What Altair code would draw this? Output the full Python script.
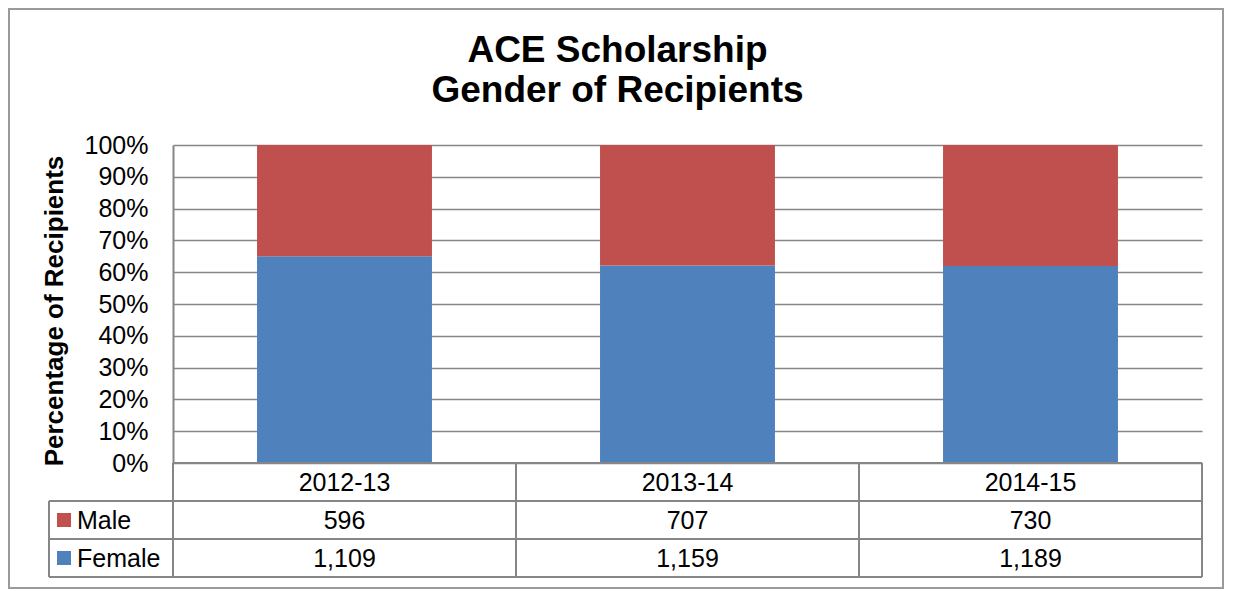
import altair as alt
import pandas as pd

# ---- data ----
years = ["2012-13", "2013-14", "2014-15"]
male = [596, 707, 730]
female = [1109, 1159, 1189]
genders = ["Female", "Male"]
colors = ["#4F81BD", "#C0504D"]
y_ticks = [0, 0.1, 0.2, 0.3, 0.4, 0.5, 0.6, 0.7, 0.8, 0.9, 1.0]
title_lines = ["ACE Scholarship", "Gender of Recipients"]
y_title = "Percentage of Recipients"

rows = []
for i, yr in enumerate(years):
    rows.append({"year": yr, "gender": "Female", "count": female[i], "order": 0})
    rows.append({"year": yr, "gender": "Male", "count": male[i], "order": 1})
df = pd.DataFrame(rows)
years_df = pd.DataFrame({"year": years})
gender_df = pd.DataFrame({"gender": genders})
one = pd.DataFrame({"k": [0]})

# ---- layout (plot area) ----
W, H = 1029, 318
FONT = "Liberation Sans"
LINE = "#868686"
FS = 25
ROW_Y = {"year": 338, "Male": 376, "Female": 414}

x_scale = alt.Scale(domain=years, paddingInner=0, paddingOuter=0)
x_enc = alt.X("year:N", scale=x_scale, axis=None)
color_enc = alt.Color("gender:N", scale=alt.Scale(domain=genders, range=colors), legend=None)

bars = alt.Chart(df).mark_bar(width=alt.RelativeBandSize(0.51)).encode(
    x=x_enc,
    y=alt.Y(
        "count:Q",
        stack="normalize",
        scale=alt.Scale(domain=[0, 1]),
        axis=alt.Axis(
            values=y_ticks,
            format=".0%",
            grid=True,
            gridColor=LINE,
            gridWidth=1.5,
            domain=True,
            domainColor=LINE,
            domainWidth=2,
            ticks=False,
            labelPadding=25,
            labelFontSize=FS,
            labelColor="black",
            labelFont=FONT,
            title=None,
        ),
    ),
    color=color_enc,
    order=alt.Order("order:Q"),
)

# table texts
year_text = alt.Chart(years_df).mark_text(fontSize=FS, baseline="middle", color="black", font=FONT).encode(
    x=x_enc, y=alt.value(ROW_Y["year"]), text="year:N"
)
layers = [bars, year_text]
for g in genders:
    layers.append(
        alt.Chart(df).transform_filter(alt.datum.gender == g)
        .mark_text(fontSize=FS, baseline="middle", color="black", font=FONT)
        .encode(x=x_enc, y=alt.value(ROW_Y[g]), text=alt.Text("count:Q", format=","))
    )
    layers.append(
        alt.Chart(gender_df).transform_filter(alt.datum.gender == g)
        .mark_square(size=196, opacity=1)
        .encode(x=alt.value(-109), y=alt.value(ROW_Y[g] - 1), color=color_enc)
    )
    layers.append(
        alt.Chart(gender_df).transform_filter(alt.datum.gender == g)
        .mark_text(fontSize=FS, baseline="middle", align="left", color="black", font=FONT)
        .encode(x=alt.value(-96), y=alt.value(ROW_Y[g]), text="gender:N")
    )

# table lines
def hline(x1, x2, y):
    return alt.Chart(one).mark_rule(color=LINE, strokeWidth=2).encode(
        x=alt.value(x1), x2=alt.value(x2), y=alt.value(y)
    )

def vline(x, y1, y2):
    return alt.Chart(one).mark_rule(color=LINE, strokeWidth=2).encode(
        x=alt.value(x), y=alt.value(y1), y2=alt.value(y2)
    )

layers += [
    hline(0, W, 318),
    hline(-124, W, 356),
    hline(-124, W, 394),
    hline(-124, W, 432),
    vline(-124, 356, 432),
    vline(W, 318, 432),
    alt.Chart(years_df).mark_rule(color=LINE, strokeWidth=2).encode(
        x=alt.X("year:N", bandPosition=0, scale=x_scale, axis=None),
        y=alt.value(318), y2=alt.value(432),
    ),
]

# titles
for i, line in enumerate(title_lines):
    layers.append(
        alt.Chart(one).mark_text(fontSize=37, fontWeight="bold", color="black", font=FONT, baseline="alphabetic")
        .encode(x=alt.value(444.5), y=alt.value(-83 + 40 * i), text=alt.value(line))
    )
layers.append(
    alt.Chart(one).mark_text(fontSize=26, fontWeight="bold", color="black", font=FONT, angle=270, baseline="middle")
    .encode(x=alt.value(-118), y=alt.value(166), text=alt.value(y_title))
)

# outer frame
layers.append(
    alt.Chart(one).mark_rect(fill=None, stroke="#9A9A9A", strokeWidth=2).encode(
        x=alt.value(-164), x2=alt.value(1050), y=alt.value(-136), y2=alt.value(443)
    )
)

chart = alt.layer(*layers).properties(
    width=W,
    height=H,
    autosize=alt.AutoSizeParams(type="none"),
    padding={"left": 165, "top": 137, "right": 23, "bottom": 127},
).configure_view(stroke=None)

chart.save("out.html", embed_options={"renderer": "svg", "actions": False})
